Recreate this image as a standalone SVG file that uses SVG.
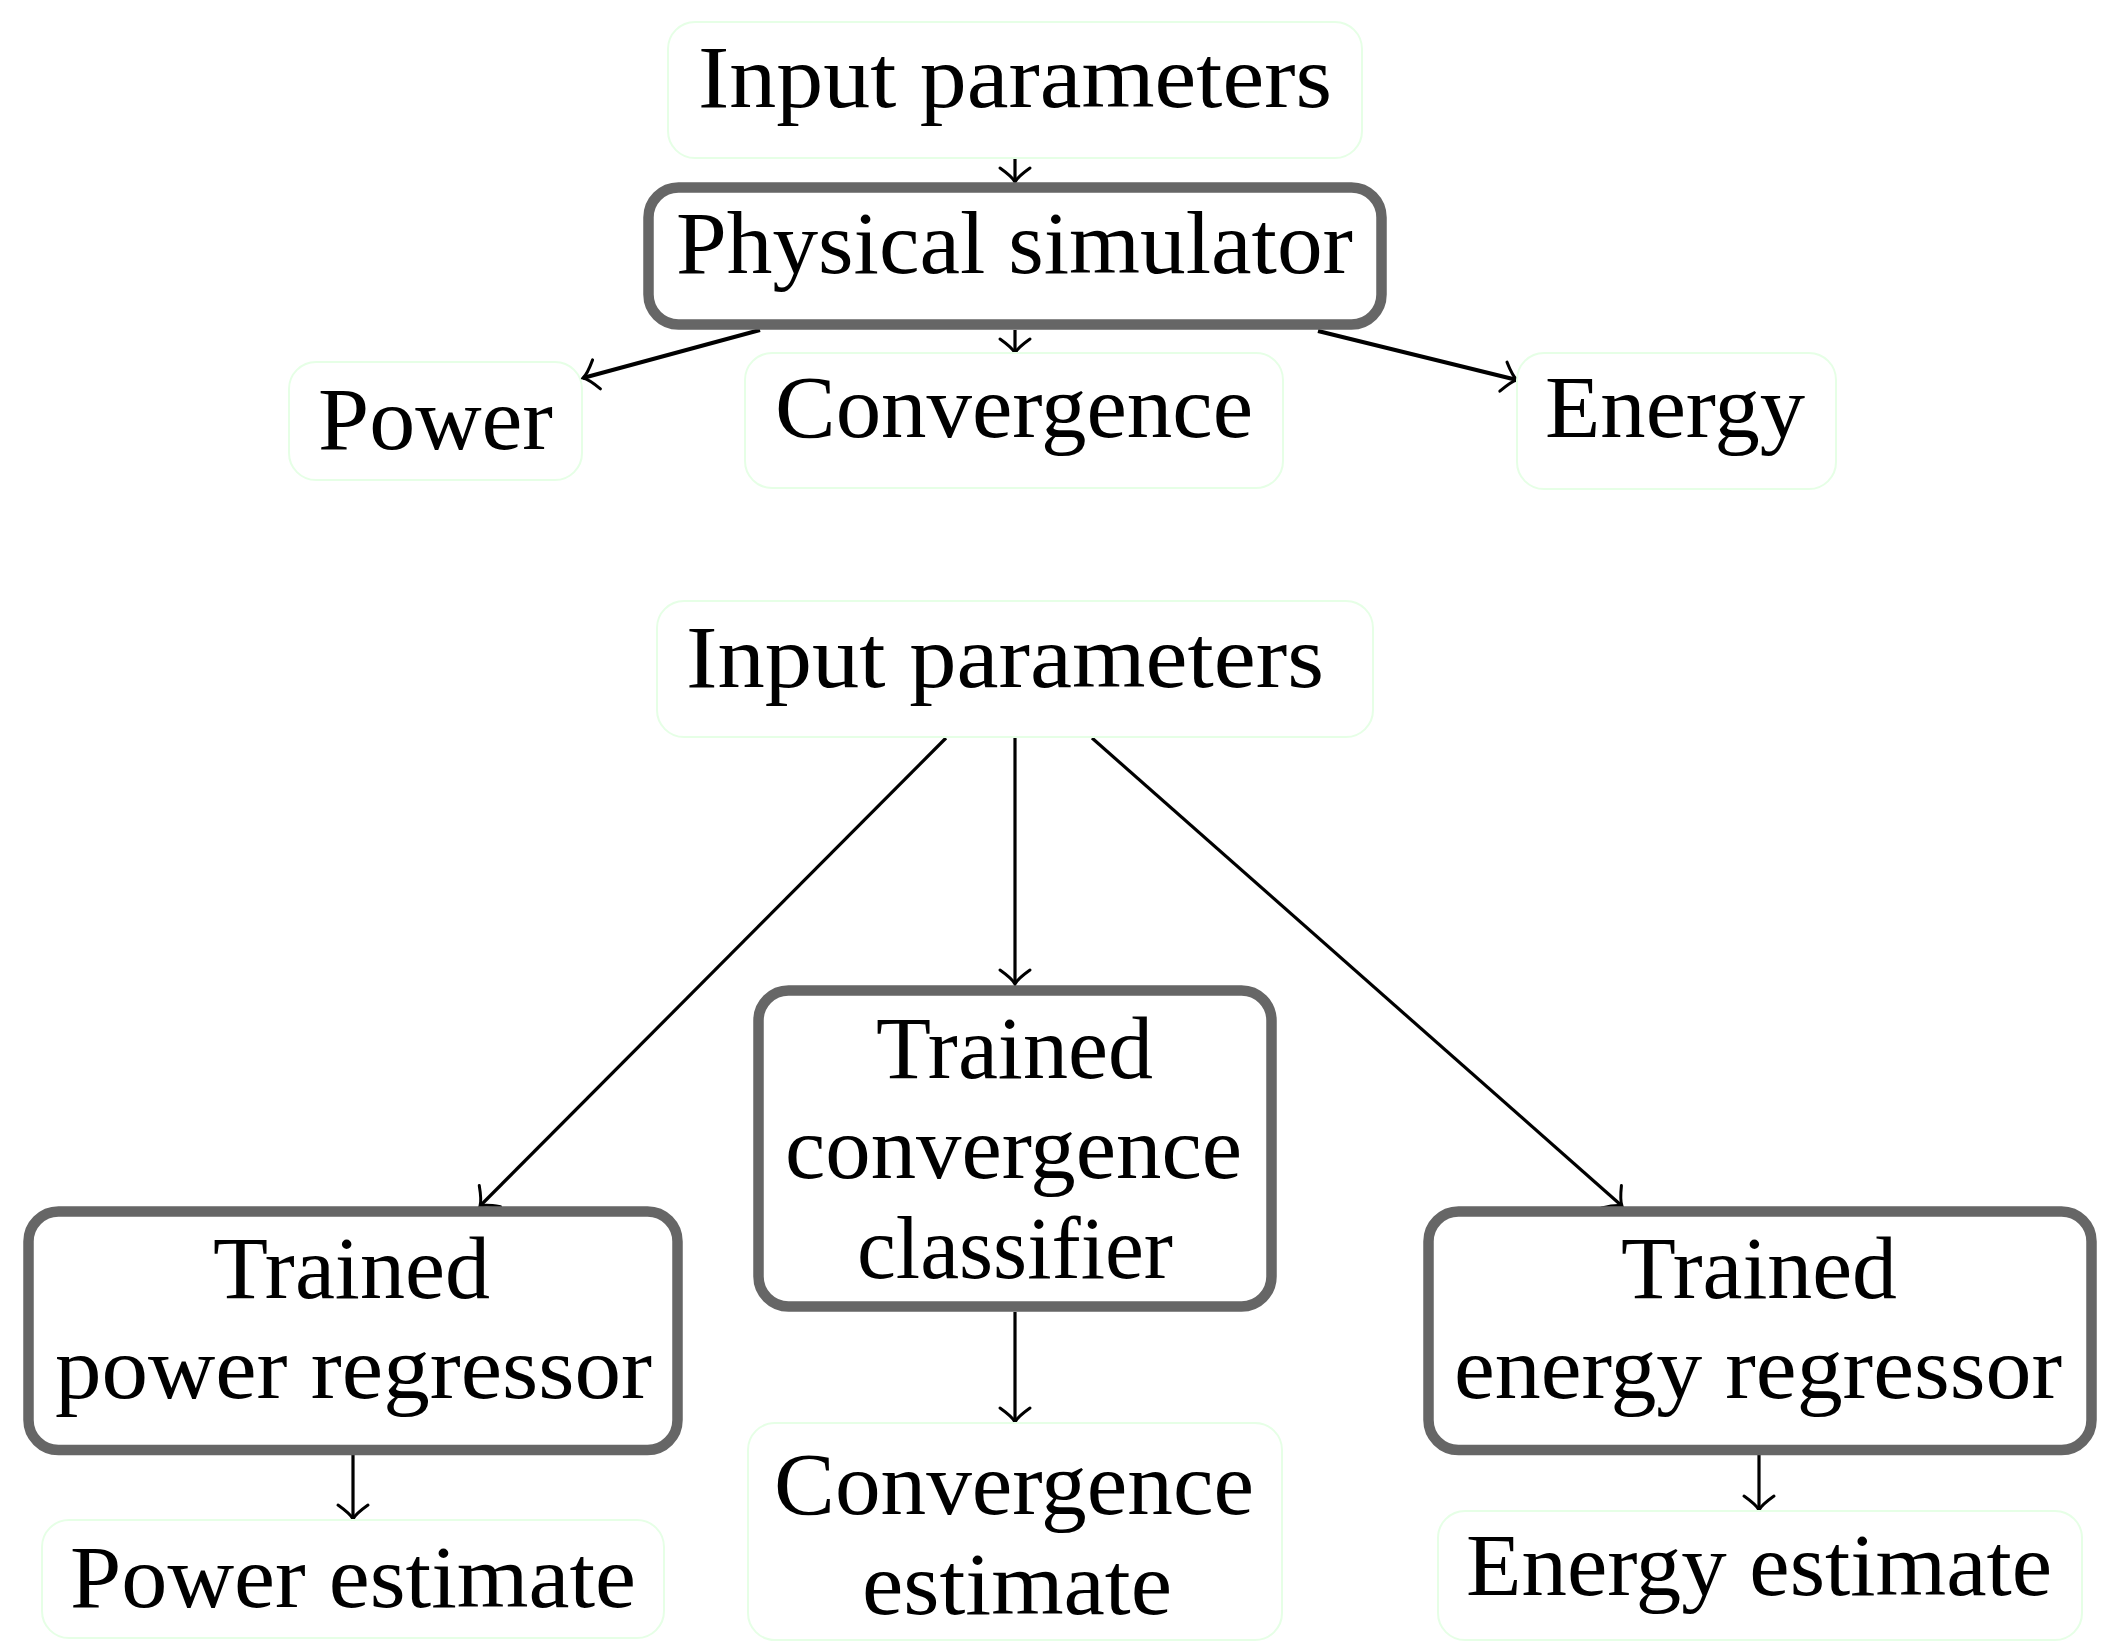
<svg xmlns="http://www.w3.org/2000/svg" width="2124" height="1642" viewBox="0 0 2124 1642">
<style>
  .lbl { font-family: "Liberation Serif", "Times New Roman", serif; font-size: 88px; fill: #000; }
  .soft { fill: #fff; stroke: #e6ffe6; stroke-width: 2; }
  .hard { fill: #fff; stroke: #666666; stroke-width: 10.5; }
  .conn { stroke: #000; fill: none; stroke-width: 3.2; marker-end: url(#to); }
  .thick { stroke-width: 4; }
</style>
<defs>
  <marker id="to" markerUnits="userSpaceOnUse" viewBox="-20 -20 40 40" markerWidth="40" markerHeight="40" refX="0" refY="0" orient="auto" overflow="visible">
    <path d="M -14 -15 C -9 -8 -4 -2 0 0 C -4 2 -9 8 -14 15" fill="none" stroke="#000" stroke-width="3" stroke-linecap="round"/>
  </marker>
</defs>
<rect width="2124" height="1642" fill="#fff"/>

<g id="connectors">
  <line class="conn" x1="1015" y1="158" x2="1015" y2="182"/>
  <line class="conn" x1="1015" y1="330" x2="1015" y2="353"/>
  <line class="conn thick" x1="760" y1="330" x2="583" y2="378"/>
  <line class="conn thick" x1="1318" y1="331" x2="1517" y2="380"/>
  <line class="conn" x1="946" y1="738" x2="480" y2="1206"/>
  <line class="conn" x1="1015" y1="738" x2="1015" y2="984"/>
  <line class="conn" x1="1092" y1="738" x2="1622" y2="1206"/>
  <line class="conn" x1="353" y1="1455" x2="353" y2="1519"/>
  <line class="conn" x1="1015" y1="1312" x2="1015" y2="1422"/>
  <line class="conn" x1="1759" y1="1455" x2="1759" y2="1510"/>
</g>

<g id="input1">
  <rect class="soft" x="668" y="22" width="694" height="136" rx="27"/>
  <text class="lbl" x="698" y="107" textLength="634" lengthAdjust="spacingAndGlyphs">Input parameters</text>
</g>
<g id="simulator">
  <rect class="hard" x="648.5" y="187.5" width="733" height="137" rx="30"/>
  <text class="lbl" x="676" y="273" textLength="677" lengthAdjust="spacingAndGlyphs">Physical simulator</text>
</g>
<g id="power">
  <rect class="soft" x="289" y="362" width="293" height="118" rx="27"/>
  <text class="lbl" x="318" y="449" textLength="235" lengthAdjust="spacingAndGlyphs">Power</text>
</g>
<g id="convergence">
  <rect class="soft" x="745" y="353" width="538" height="135" rx="27"/>
  <text class="lbl" x="775" y="437" textLength="478" lengthAdjust="spacingAndGlyphs">Convergence</text>
</g>
<g id="energy">
  <rect class="soft" x="1517" y="353" width="319" height="136" rx="27"/>
  <text class="lbl" x="1545" y="437" textLength="260" lengthAdjust="spacingAndGlyphs">Energy</text>
</g>

<g id="input2">
  <rect class="soft" x="657" y="601" width="716" height="136" rx="27"/>
  <text class="lbl" x="686" y="687" textLength="638" lengthAdjust="spacingAndGlyphs">Input parameters</text>
</g>
<g id="power-regressor">
  <rect class="hard" x="28.5" y="1211.5" width="649" height="238.5" rx="30"/>
  <text class="lbl" x="213" y="1298" textLength="277" lengthAdjust="spacingAndGlyphs">Trained</text>
  <text class="lbl" x="55" y="1398" textLength="597" lengthAdjust="spacingAndGlyphs">power regressor</text>
</g>
<g id="convergence-classifier">
  <rect class="hard" x="758.5" y="990.5" width="513" height="316" rx="30"/>
  <text class="lbl" x="876" y="1078" textLength="277" lengthAdjust="spacingAndGlyphs">Trained</text>
  <text class="lbl" x="785" y="1178" textLength="457" lengthAdjust="spacingAndGlyphs">convergence</text>
  <text class="lbl" x="857" y="1278" textLength="316" lengthAdjust="spacingAndGlyphs">classifier</text>
</g>
<g id="energy-regressor">
  <rect class="hard" x="1428.5" y="1211.5" width="663" height="238.5" rx="30"/>
  <text class="lbl" x="1621" y="1298" textLength="276" lengthAdjust="spacingAndGlyphs">Trained</text>
  <text class="lbl" x="1454" y="1398" textLength="608" lengthAdjust="spacingAndGlyphs">energy regressor</text>
</g>
<g id="power-estimate">
  <rect class="soft" x="42" y="1520" width="622" height="118" rx="27"/>
  <text class="lbl" x="70" y="1607" textLength="566" lengthAdjust="spacingAndGlyphs">Power estimate</text>
</g>
<g id="convergence-estimate">
  <rect class="soft" x="748" y="1423" width="534" height="217" rx="27"/>
  <text class="lbl" x="774" y="1514" textLength="480" lengthAdjust="spacingAndGlyphs">Convergence</text>
  <text class="lbl" x="862" y="1614" textLength="310" lengthAdjust="spacingAndGlyphs">estimate</text>
</g>
<g id="energy-estimate">
  <rect class="soft" x="1438" y="1511" width="644" height="129" rx="27"/>
  <text class="lbl" x="1466" y="1595" textLength="586" lengthAdjust="spacingAndGlyphs">Energy estimate</text>
</g>
</svg>
